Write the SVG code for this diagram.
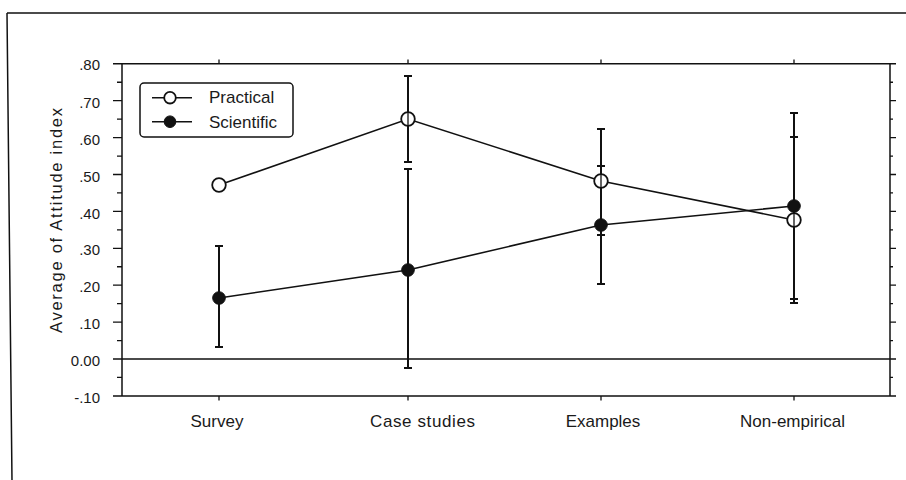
<svg xmlns="http://www.w3.org/2000/svg" width="906" height="480" viewBox="0 0 906 480">
<style>
.ax{stroke:#111;stroke-width:1.5;fill:none}
.tk{stroke:#111;stroke-width:1.3;fill:none}
.ln{stroke:#111;stroke-width:1.6;fill:none}
.eb{stroke:#111;stroke-width:2;fill:none}
.open{fill:#fff;stroke:#111;stroke-width:1.8}
.fill{fill:#111;stroke:#111;stroke-width:1}
.t{font-family:"Liberation Sans",Arial,sans-serif;fill:#1a1a1a}
.yl{font-size:15px;text-anchor:end}
.xl{font-size:17px;text-anchor:middle}
.lg{font-size:17px}
</style>
<rect width="906" height="480" fill="#fff"/>
<g id="frame">
<path class="ax" d="M7 13 H906 M7 13 L12 480"/>
</g>
<g id="axes">
<path class="ax" d="M122 63.8 V395.9 M890 63.8 V395.9 M113 63.8 H896 M113 359 H896 M113 395.9 H896"/>
<path class="tk" d="M113 100.7H122M113 137.6H122M113 174.5H122M113 211.4H122M113 248.3H122M113 285.2H122M113 322.1H122
M117 82.25H122M117 119.15H122M117 156.05H122M117 192.95H122M117 229.85H122M117 266.75H122M117 303.65H122M117 340.55H122M117 377.45H122
M890 100.7H896M890 137.6H896M890 174.5H896M890 211.4H896M890 248.3H896M890 285.2H896M890 322.1H896
M890 82.25H893M890 119.15H893M890 156.05H893M890 192.95H893M890 229.85H893M890 266.75H893M890 303.65H893M890 340.55H893M890 377.45H893
M219 63.8V59.5M408 63.8V59.5M601 63.8V59.5M794 63.8V59.5
M219 395.9V400.5M408 395.9V400.5M601 395.9V400.5M794 395.9V400.5"/>
</g>
<g id="y-labels" class="t yl">
<text x="100" y="70">.80</text>
<text x="100" y="107.5">.70</text>
<text x="100" y="144.5">.60</text>
<text x="100" y="181.5">.50</text>
<text x="100" y="218.5">.40</text>
<text x="100" y="255">.30</text>
<text x="100" y="292">.20</text>
<text x="100" y="328.5">.10</text>
<text x="100" y="365.5">0.00</text>
<text x="100" y="402.5">-.10</text>
</g>
<g id="y-title">
<text class="t" font-size="16.5" text-anchor="middle" transform="translate(62 220.5) rotate(-90)" textLength="225" lengthAdjust="spacing">Average of Attitude index</text>
</g>
<g id="x-labels" class="t xl">
<text x="217" y="427">Survey</text>
<text x="422.5" y="427" textLength="105" lengthAdjust="spacing">Case studies</text>
<text x="603" y="427">Examples</text>
<text x="792.5" y="427">Non-empirical</text>
</g>
<g id="connectors">
<path class="eb" d="M219 246V347M215 246H223M215 347H223"/>
<path class="eb" d="M408 76V162M404 76H412M404 162H412"/>
<path class="eb" d="M408 169V368M404 169H412M404 368H412"/>
<path class="eb" d="M601 129V235M597 129H605M597 235H605"/>
<path class="eb" d="M601 166V284M597 166H605M597 284H605"/>
<path class="eb" d="M794 113V299M790 113H798M790 299H798"/>
<path class="eb" d="M794 137V303M790 137H798M790 303H798"/>
<polyline class="ln" points="219,185 408,119 601,181 794,220"/>
<polyline class="ln" points="219,298 408,270 601,225 794,206"/>
</g>
<g id="practical">
<circle class="open" cx="219" cy="185" r="6.8"/>
<circle class="open" cx="408" cy="119" r="6.8"/>
<circle class="open" cx="601" cy="181" r="6.8"/>
<circle class="open" cx="794" cy="220" r="6.8"/>
<path class="tk" d="M408 112V126M601 174V188M794 213V227"/>
</g>
<g id="scientific">
<circle class="fill" cx="219" cy="298" r="6.3"/>
<circle class="fill" cx="408" cy="270" r="6.3"/>
<circle class="fill" cx="601" cy="225" r="6.3"/>
<circle class="fill" cx="794" cy="206" r="6.3"/>
</g>
<g id="legend">
<rect x="140" y="83" width="153" height="54" rx="4" class="ax"/>
<path class="ln" d="M152 97.7H192M152 121.7H192"/>
<circle class="open" cx="170" cy="97.7" r="5.8"/>
<circle class="fill" cx="170" cy="121.7" r="5.8"/>
<text class="t lg" x="209" y="103">Practical</text>
<text class="t lg" x="209" y="128">Scientific</text>
</g>
</svg>
